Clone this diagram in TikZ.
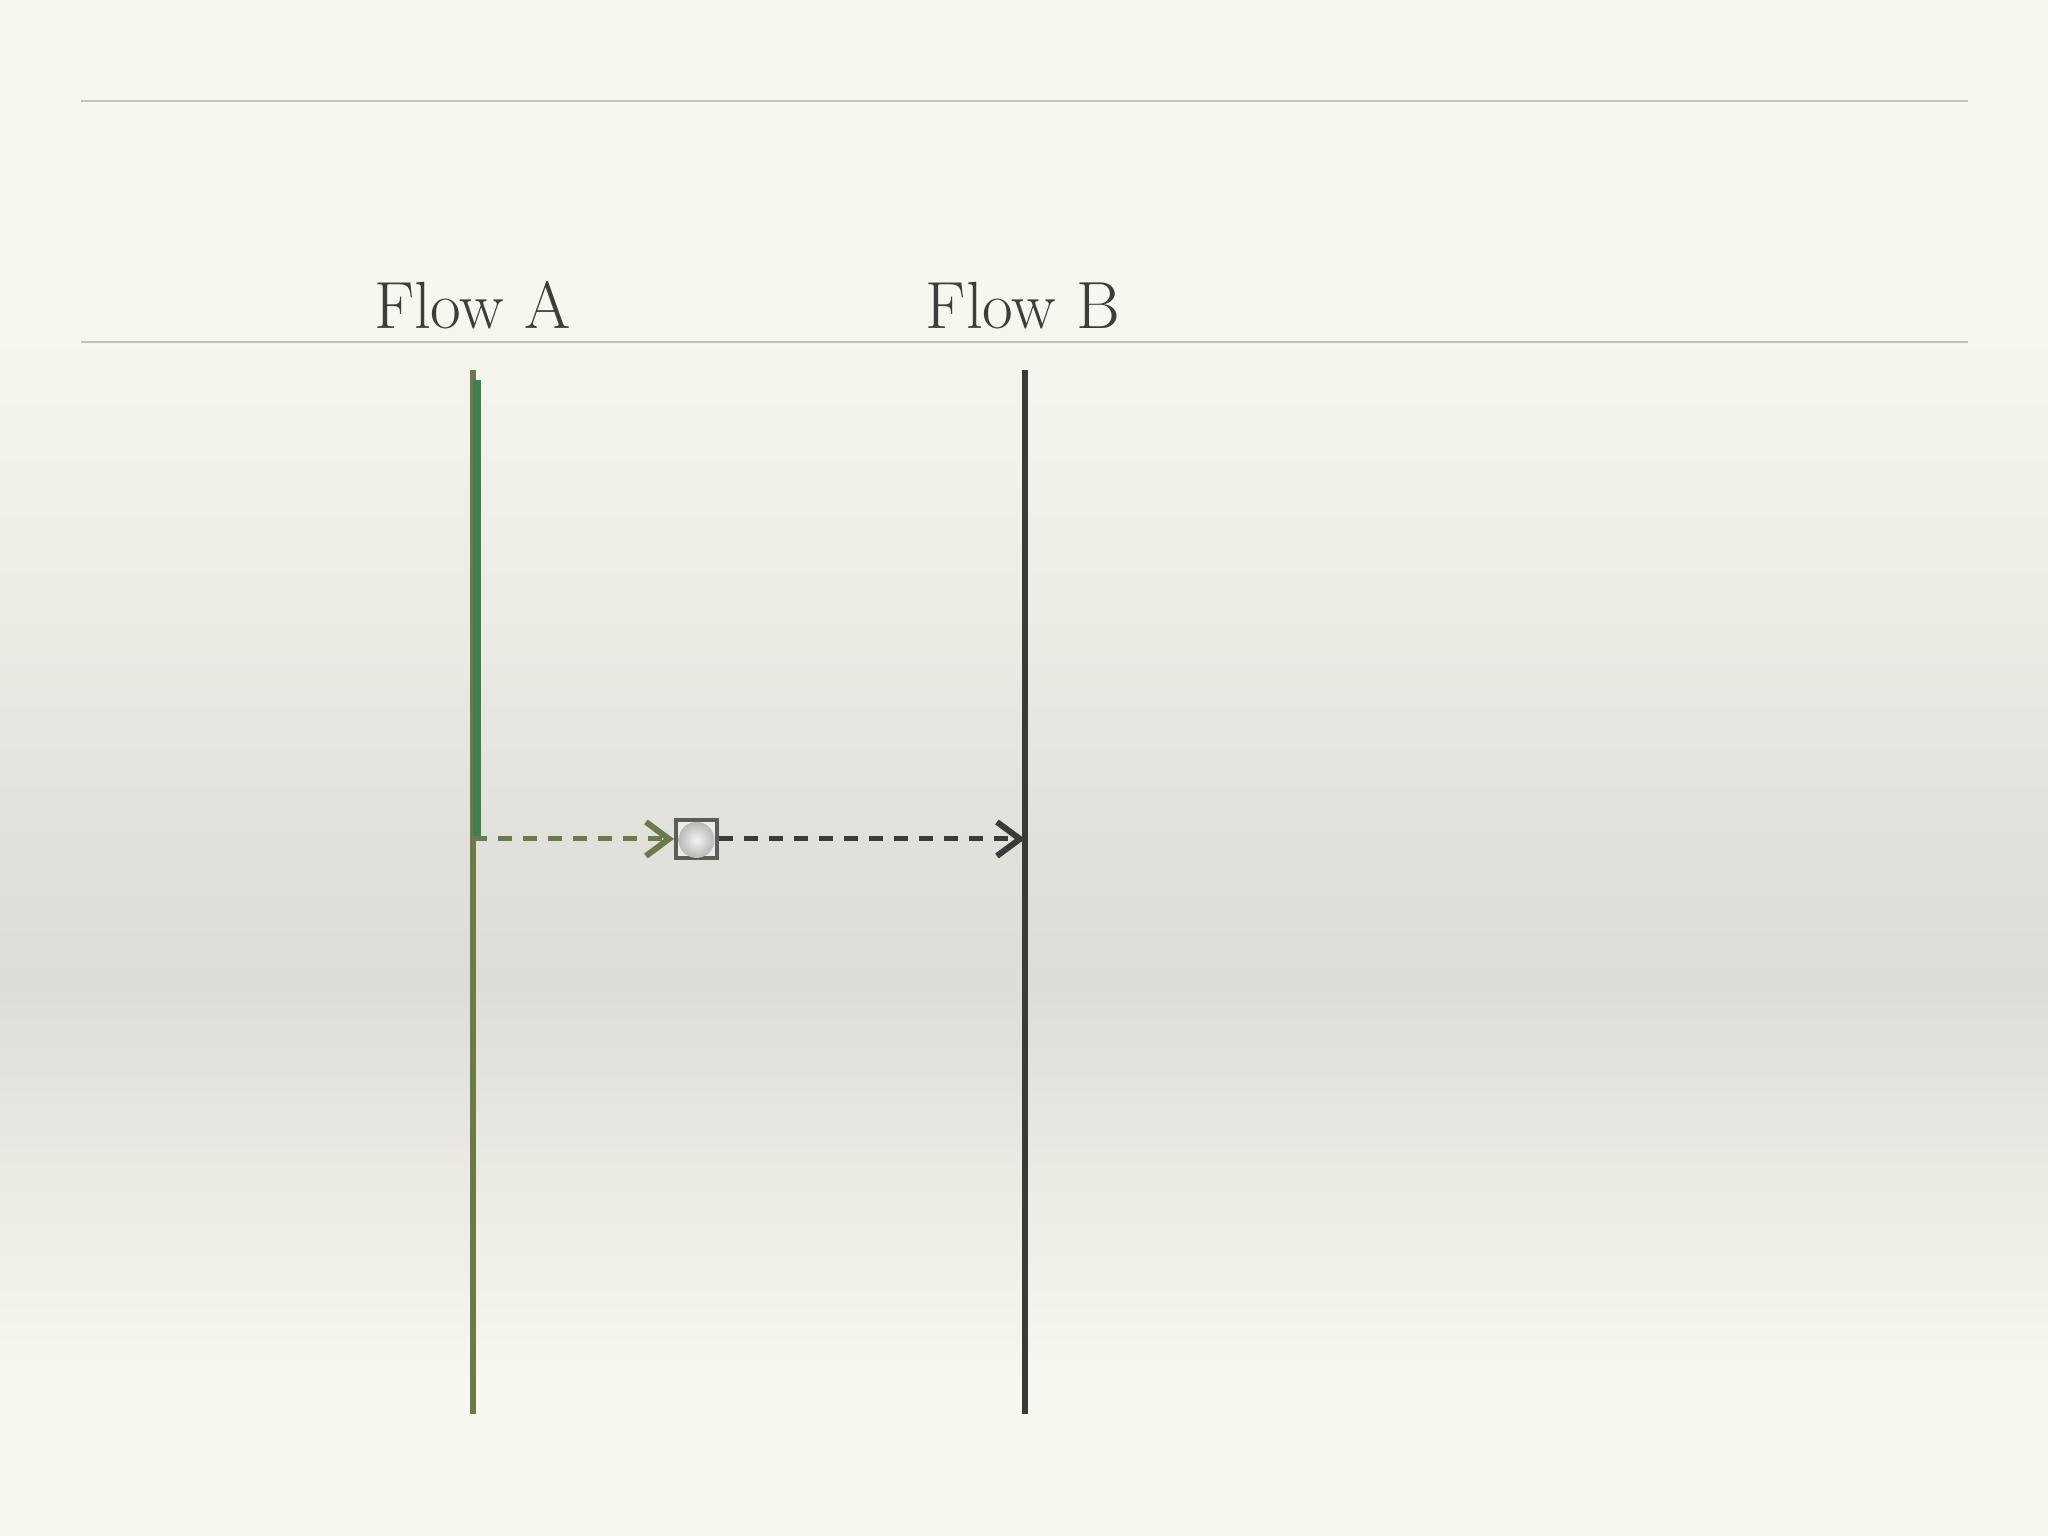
\documentclass[tikz,border=0pt]{standalone}
\usetikzlibrary{arrows.meta, shadings, positioning}
\definecolor{paper}{HTML}{F7F7EF}
\definecolor{paperMid}{HTML}{ECECE5}
\definecolor{paperDark}{HTML}{DDDCD7}
\definecolor{ruleColor}{HTML}{C2C2BA}
\definecolor{labelColor}{HTML}{3D3D3A}
\definecolor{oliveColor}{HTML}{6B7A4A}
\definecolor{greenColor}{HTML}{3F7F52}
\definecolor{darkColor}{HTML}{3A3A38}
\definecolor{boxColor}{HTML}{5C5C5A}
\pgfdeclareverticalshading{paperShade}{100bp}{color(0bp)=(paper); color(25bp)=(paper);
  color(30bp)=(paper); color(36bp)=(paperMid); color(43bp)=(paperDark);
  color(48bp)=(paperDark!70!paperMid); color(55bp)=(paperMid);
  color(60bp)=(paperMid!50!paper); color(65bp)=(paper); color(75bp)=(paper);
  color(100bp)=(paper)}
\tikzstyle{rule}=[draw=ruleColor, line width=0.6pt]
\tikzstyle{flowLabel}=[font=\fontsize{19}{23}\selectfont, text=labelColor, anchor=base, inner sep=0pt]
\tikzstyle{lane}=[line width=0.055cm]
\tikzstyle{msgArrow}=[->, >={Straight Barb[length=2.3mm, width=3.4mm, line width=0.06cm]},
  line width=0.05cm, dash pattern=on 1.4mm off 1.1mm]
\tikzstyle{msgBox}=[draw=boxColor, line width=0.04cm, fill=paperMid, inner sep=0pt,
  minimum width=0.41cm, minimum height=0.38cm]

\begin{document}
\begin{tikzpicture}
  \useasboundingbox (0,0) rectangle (20.48,15.36);
  \shade[shading=paperShade] (0,0) rectangle (20.48,15.36);
  % rules
  \coordinate(topL) at (0.81,14.35);
  \coordinate(topR) at (19.68,14.35);
  \coordinate(headL) at (0.81,11.94);
  \coordinate(headR) at (19.68,11.94);
  \draw[rule] (topL) -- (topR);
  \draw[rule] (headL) -- (headR);
  % lanes
  \node(flowA) at (4.725,12.07) [flowLabel] {Flow A};
  \node(flowB) at (10.23,12.07) [flowLabel] {Flow B};
  \coordinate(aTop) at (4.73,11.66);
  \coordinate(aBot) at (4.73,1.22);
  \coordinate(gTop) at (4.765,11.56);
  \coordinate(gBot) at (4.765,6.99);
  \coordinate(bTop) at (10.25,11.66);
  \coordinate(bBot) at (10.25,1.22);
  \draw[lane, oliveColor] (aTop) -- (aBot);
  \draw[line width=0.08cm, greenColor] (gTop) -- (gBot);
  \draw[lane, darkColor] (bTop) -- (bBot);
  % message
  \coordinate(aOut) at (4.73,6.97);
  \coordinate(bIn) at (10.25,6.97);
  \node(msg) at (6.965,6.97) [msgBox] {};
  \shade[inner color=gray!10, outer color=gray!55] ([yshift=-0.01cm]msg.center) circle (0.18);
  \draw[msgArrow, oliveColor] (aOut) to (msg.west);
  \draw[msgArrow, darkColor] (msg.east) to (bIn);
\end{tikzpicture}
\end{document}
